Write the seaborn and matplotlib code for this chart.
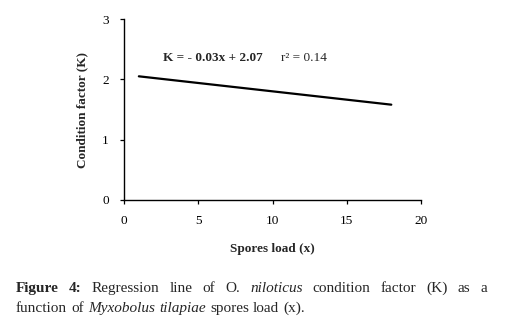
import numpy as np
import pandas as pd
import matplotlib
matplotlib.use('Agg')
import matplotlib.pyplot as plt
import seaborn as sns

# Datos.
spores_load = [1, 18]
condition_k = [2.05, 1.58]
x_ticks = [0, 5, 10, 15, 20]
y_ticks = [0, 1, 2, 3]

equation = 'K = - 0.03x + 2.07'
r2_text = 'r² = 0.14'

sns.set_style('ticks')
plt.rcParams['font.family'] = ['Liberation Serif', 'DejaVu Serif']

W, H = 506, 334
fig = plt.figure(figsize=(W / 100, H / 100), dpi=100)
ax = fig.add_axes([124 / W, 1 - 200 / H, (421 - 124) / W, (200 - 19) / H])

df = pd.DataFrame({'x': spores_load, 'k': condition_k})
sns.lineplot(data=df, x='x', y='k', color='black', linewidth=1.6, ax=ax)

ax.set_xlim(0, 20)
ax.set_ylim(0, 3)
ax.set_xticks(x_ticks)
ax.set_yticks(y_ticks)
ax.tick_params(direction='out', length=3, width=0.9, labelsize=9.5, colors='black', pad=8)
for s in ['left', 'bottom']:
    ax.spines[s].set_linewidth(1.0)
    ax.spines[s].set_color('black')
sns.despine(ax=ax)

ax.set_xlabel('Spores load (x)', fontsize=9.5, fontweight='bold', labelpad=11)
ax.set_ylabel('Condition factor (K)', fontsize=9.5, fontweight='bold', labelpad=10)

ax.text(2.65, 2.35, equation, fontsize=9.5, fontweight='bold', va='center')
ax.text(10.6, 2.35, r2_text, fontsize=9.5, va='center')

# Pie de figura, justificado a mano.
renderer = fig.canvas.get_renderer()
fs = 11
line1 = [('Figure', 'bold', 'normal'), ('4:', 'bold', 'normal'),
         ('Regression', 'normal', 'normal'), ('line', 'normal', 'normal'),
         ('of', 'normal', 'normal'), ('O.', 'normal', 'normal'),
         ('niloticus', 'normal', 'italic'), ('condition', 'normal', 'normal'),
         ('factor', 'normal', 'normal'), ('(K)', 'normal', 'normal'),
         ('as', 'normal', 'normal'), ('a', 'normal', 'normal')]
line2 = [('function', 'normal', 'normal'), ('of', 'normal', 'normal'),
         ('Myxobolus', 'normal', 'italic'), ('tilapiae', 'normal', 'italic'),
         ('spores', 'normal', 'normal'), ('load', 'normal', 'normal'),
         ('(x).', 'normal', 'normal')]


def place_line(words, y, x0, x1):
    objs = []
    for w, wt, st in words:
        t = fig.text(0, y, w, fontsize=fs, fontweight=wt, fontstyle=st,
                     va='baseline', ha='left', transform=None)
        objs.append(t)
    widths = [t.get_window_extent(renderer).width for t in objs]
    gap = (x1 - x0 - sum(widths)) / (len(objs) - 1)
    x = x0
    for t, w in zip(objs, widths):
        t.set_x(x)
        x += w + gap


place_line(line1, H - 292, 16, 487)
place_line(line2, H - 312, 16, 305)

fig.savefig('out.png', dpi=100)
